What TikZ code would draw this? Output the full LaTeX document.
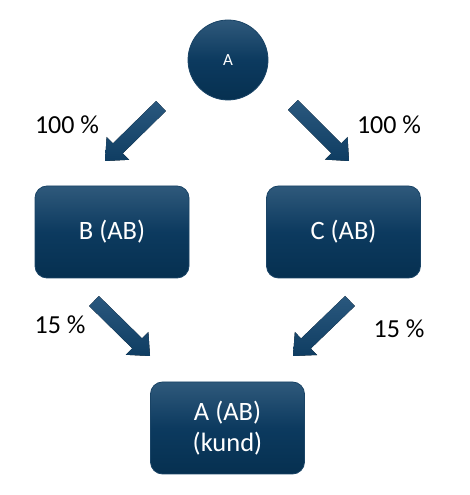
\documentclass[tikz,border=0pt]{standalone}
\usepackage{fontspec}
\setmainfont{Carlito}
\usetikzlibrary{calc}
\definecolor{boxtop}{HTML}{2F597B}
\definecolor{boxmid}{HTML}{0C3A5F}
\definecolor{boxbot}{HTML}{063050}
\definecolor{boxedge}{HTML}{1A4466}
\definecolor{arrtop}{HTML}{2A587E}
\definecolor{arrbot}{HTML}{0F3D62}
\newcommand\blockarrow[2]{%
  \coordinate (#1hb) at ($(#2)!18pt!(#1)$);
  \fill[arrowfill] ($(#1)!7pt!90:(#2)$) -- ($(#1hb)!7pt!90:(#2)$) -- ($(#1hb)!16pt!90:(#2)$) -- (#2)
     -- ($(#1hb)!16pt!-90:(#2)$) -- ($(#1hb)!7pt!-90:(#2)$) -- ($(#1)!7pt!-90:(#2)$) -- cycle;}
\begin{document}
\begin{tikzpicture}[x=1pt,y=1pt,
  box/.style={rectangle, rounded corners=12pt, minimum width=154pt, minimum height=92pt,
    text=white, align=center, font=\fontsize{26.5}{31}\selectfont,
    draw=boxedge, line width=0.8pt, top color=boxtop, bottom color=boxbot, middle color=boxmid},
  roundnode/.style={circle, minimum size=80pt, inner sep=0pt, text=white,
    font=\fontsize{17}{20}\selectfont, draw=boxedge, line width=0.8pt,
    top color=boxtop, bottom color=boxbot, middle color=boxmid},
  pct/.style={font=\fontsize{26}{30}\selectfont, text=black, inner sep=0pt},
  arrowfill/.style={top color=arrtop, bottom color=arrbot}]
\useasboundingbox (0,0) rectangle (470,495);
\node[roundnode] (a) at (228,435) {A};
\node[box] (b) at (112,263) {B (AB)};
\node[box] (c) at (343.5,263) {C (AB)};
\node[box] (d) at (227.5,67) {A (AB)\\(kund)};
\coordinate (t1) at (161,389); \coordinate (p1) at (105,334);
\coordinate (t2) at (293,390); \coordinate (p2) at (349,334);
\coordinate (t3) at (94,194);  \coordinate (p3) at (150,139);
\coordinate (t4) at (350,194); \coordinate (p4) at (293,139);
\blockarrow{t1}{p1}
\blockarrow{t2}{p2}
\blockarrow{t3}{p3}
\blockarrow{t4}{p4}
\node[pct] (l1) at (67,370) {100 \%};
\node[pct] (l2) at (389,370) {100 \%};
\node[pct] (l3) at (60,170) {15 \%};
\node[pct] (l4) at (399,166) {15 \%};
\end{tikzpicture}
\end{document}
